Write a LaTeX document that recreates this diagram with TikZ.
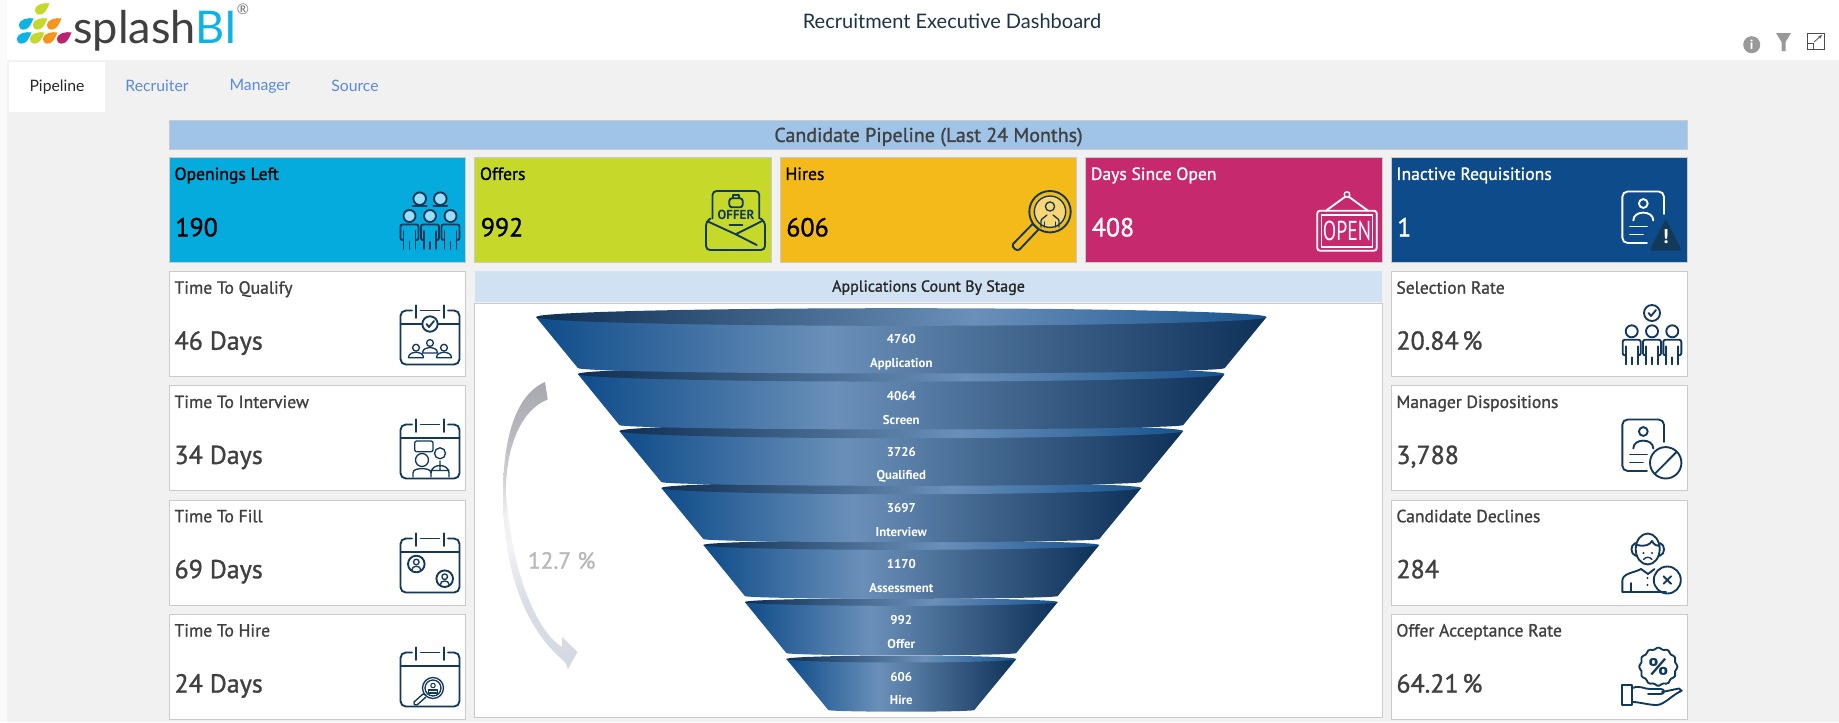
\documentclass[tikz,border=0pt]{standalone}
\usepackage{fontspec}
\setmainfont{PT Sans}
\newfontfamily\latofont{Lato}
\newfontfamily\medfont[FakeBold=1.1]{PT Sans}
\usepackage{xcolor}
\usepackage{tikz}
\usetikzlibrary{arrows.meta,shapes,positioning,calc}
\definecolor{pagegrey}{HTML}{F1F1F1}
\definecolor{edgegrey}{HTML}{CACACA}
\definecolor{bandblue}{HTML}{9FC4E8}
\definecolor{stagehead}{HTML}{CFE1F2}
\definecolor{tabblue}{HTML}{5A8ADB}
\definecolor{kpicyan}{HTML}{05ABDC}
\definecolor{kpilime}{HTML}{C6D92A}
\definecolor{kpigold}{HTML}{F3BA1A}
\definecolor{kpipink}{HTML}{C7296F}
\definecolor{kpinavy}{HTML}{0D4B8A}
\definecolor{iconnavy}{HTML}{12385A}
\definecolor{headtitle}{HTML}{1D3347}
\definecolor{inkgrey}{HTML}{404040}
\definecolor{logocyan}{HTML}{0DB3E2}
\definecolor{logolime}{HTML}{C5D82B}
\definecolor{logoorange}{HTML}{F7941E}
\definecolor{logopink}{HTML}{B9246E}
\definecolor{funnelleft}{HTML}{0F4C8A}
\definecolor{funnelmid}{HTML}{6A90B9}
\definecolor{funnelright}{HTML}{0E3158}
\definecolor{capleft}{HTML}{0F2F52}
\definecolor{capright}{HTML}{17538F}
\definecolor{fadea}{HTML}{D3D8E2}
\definecolor{fadeb}{HTML}{DADEE6}
\definecolor{fadec}{HTML}{F4F4F6}
\definecolor{faded}{HTML}{F0F0F0}
\definecolor{fadee}{HTML}{D2D2D6}
\definecolor{fadef}{HTML}{B8B8BE}
\definecolor{fadeg}{HTML}{A8A8B0}
\pgfdeclarehorizontalshading{funnelbody}{100bp}{color(0bp)=(funnelleft); color(25bp)=(funnelleft); color(45bp)=(funnelmid); color(75bp)=(funnelright); color(100bp)=(funnelright)}
\pgfdeclarehorizontalshading{funnelcap}{100bp}{color(0bp)=(capleft); color(25bp)=(capleft); color(55bp)=(funnelmid); color(75bp)=(capright); color(100bp)=(capright)}
\pgfdeclareverticalshading{arrowfade}{100bp}{color(0bp)=(fadea); color(25bp)=(fadea); color(37bp)=(fadeb); color(47bp)=(fadec); color(52bp)=(faded); color(58bp)=(fadee); color(66bp)=(fadef); color(75bp)=(fadeg); color(100bp)=(fadeg)}
% icon parts, one unit is one pixel of the picture
\tikzset{personhead/.style={}}
\newcommand{\stickperson}[2]{%
  \begin{scope}[shift={(#1,#2)}]
    \draw[personhead] (0,0) circle[radius=6];
    \draw[rounded corners=1.5pt] (-6,24) -- (-9,24) -- (-9,8.5) -- (9,8.5) -- (9,24) -- (6,24);
    \draw (-6,15) -- (-6,33) (6,15) -- (6,33) (0,26) -- (0,33);
  \end{scope}}
\newcommand{\miniperson}[2]{%
  \begin{scope}[shift={(#1,#2)}]
    \draw (0,0) circle[radius=3.4];
    \draw (-7.5,10) .. controls (-7.5,5.5) and (-3,5) .. (0,4.5) .. controls (3,5) and (7.5,5.5) .. (7.5,10) -- cycle;
  \end{scope}}
\newcommand{\calframe}{%
  \draw[rounded corners=4pt] (-18,-24.5) -- (-29.5,-24.5) -- (-29.5,29.5) -- (29.5,29.5) -- (29.5,-24.5) -- (18,-24.5);
  \draw (-9.3,-24.5) -- (9.3,-24.5) (-13.7,-29.7) -- (-13.7,-17) (13.7,-29.7) -- (13.7,-17);}
\newcommand{\cardframe}{%
  \draw[rounded corners=4pt] (12,-7) -- (12,-29.5) -- (-29.7,-29.5) -- (-29.7,22) -- (-5,22);
  \draw (-8.7,-17.5) circle[radius=4.4];
  \draw (-18.7,-0.5) .. controls (-18.7,-11) and (1.3,-11) .. (1.3,-0.5);
  \draw (-22,5.5) -- (-5,5.5) (-22,13.5) -- (-9,13.5);}
\newcommand{\logodrop}[3]{%
  \fill[#3, shift={(#1,#2)}] (7.5,-5.5) .. controls (3,-6.5) and (-7,-5.5) .. (-7,1.5) .. controls (-7,6.5) and (0,7) .. (3,3) .. controls (5,1) and (6,-2.5) .. (7.5,-5.5) -- cycle;}
\begin{document}
\begin{tikzpicture}[
    x=0.75pt, y=-0.75pt,
    node distance=6.2pt and 5.85pt,
    kpi/.style={rectangle, draw=edgegrey, line width=0.75pt, minimum width=222.5pt, minimum height=78.4pt, inner sep=0pt},
    metric/.style={kpi, fill=white, minimum height=78.75pt},
    tiletitle/.style={anchor=base west, inner sep=0pt, font=\medfont\fontsize{13.2}{16}\selectfont},
    tilevalue/.style={anchor=base west, inner sep=0pt, font=\medfont\fontsize{19.5}{23}\selectfont},
    tab/.style={inner sep=0pt, text=tabblue, font=\latofont\fontsize{11.8}{14}\selectfont},
    stagelabel/.style={inner sep=0pt, yshift=-1.3pt, text=white, text height=8pt, text depth=2pt, font=\bfseries\fontsize{9.6}{11}\selectfont},
    iconscope/.style={color=iconnavy, line width=1.4pt, line cap=round, line join=round}
]
    \useasboundingbox (0,0) rectangle (1839,722);
    \fill[pagegrey] (0,0) rectangle (1839,722);
    \fill[black!2] (0,0) rectangle (7,722);
    \fill[white] (7,0) rectangle (1839,60);

    % logo and header
    \logodrop{42}{9}{logolime}
    \logodrop{26}{24}{logocyan}
    \logodrop{40}{24}{logolime}
    \logodrop{54}{24}{logoorange}
    \logodrop{24}{38}{logocyan}
    \logodrop{37}{38}{logolime}
    \logodrop{50}{38}{logoorange}
    \logodrop{64}{38}{logopink}
    \node[anchor=base west, inner sep=0pt, text=inkgrey, font=\latofont\fontsize{33.8}{40}\selectfont] (logotext) at (73,43) {splash\textcolor{logocyan}{BI}};
    \node[inner sep=0pt, text=black!55, font=\latofont\fontsize{11}{12}\selectfont] (logomark) at (243,9) {®};
    \node[inner sep=0pt, text=headtitle, font=\latofont\fontsize{15}{18}\selectfont] (dashtitle) at (952,21) {Recruitment Executive Dashboard};
    \fill[black!40] (1751.7,44.7) circle[radius=8.5];
    \node[inner sep=0pt, text=white, font=\bfseries\fontsize{10}{10}\selectfont] (infomark) at (1751.7,44.7) {i};
    \fill[black!40] (1776,33) -- (1791,33) -- (1785.5,42) -- (1785.5,51) -- (1781.5,51) -- (1781.5,42) -- cycle;
    \draw[black!70, line width=0.75pt] (1807.3,33) rectangle (1824,49.5) (1807.3,43) -- (1813,43) -- (1813,49.5);
    \draw[black!70, line width=0.6pt, -{Stealth[length=3pt]}] (1814,42) -- (1822,35);

    % tabs
    \node[fill=white, minimum width=72pt, minimum height=37.5pt, inner sep=0pt, text=black!85, font=\latofont\fontsize{11.8}{14}\selectfont] (pipeline) at (57,87) {Pipeline};
    \node[tab] (recruiter) at (157,86) {Recruiter};
    \node[tab] (manager) at (260,86) {Manager};
    \node[tab] (source) at (355,86) {Source};

    % bands
    \node[rectangle, draw=edgegrey, line width=0.75pt, fill=bandblue, minimum width=1138.5pt, minimum height=21.75pt, inner sep=0pt, text height=15pt, text depth=3.8pt, text=inkgrey, font=\medfont\fontsize{15}{17}\selectfont] (pipelineband) at (928.5,134.5) {Candidate Pipeline (Last 24 Months)};

    % top row
    \node[kpi, fill=kpicyan] (openings) at (317.5,210) {};
    \node[kpi, fill=kpilime, right=of openings] (offers) {};
    \node[kpi, fill=kpigold, right=of offers] (hires) {};
    \node[kpi, fill=kpipink, right=of hires] (dayssince) {};
    \node[kpi, fill=kpinavy, right=of dayssince] (inactive) {};

    % left and right columns
    \node[metric, below=of openings] (tqualify) {};
    \node[metric, below=of tqualify] (tinterview) {};
    \node[metric, below=of tinterview] (tfill) {};
    \node[metric, below=of tfill] (thire) {};
    \node[metric, below=of inactive] (selection) {};
    \node[metric, below=of selection] (dispositions) {};
    \node[metric, below=of dispositions] (declines) {};
    \node[metric, below=of declines] (acceptance) {};

    \foreach \tile/\ink/\head/\val in {openings/black/Openings Left/190, offers/black/Offers/992, hires/black/Hires/606, dayssince/white/Days Since Open/408, inactive/white/Inactive Requisitions/1}{
        \node[tiletitle, text=\ink] (\tile-head) at ([shift={(4.2pt,-17pt)}]\tile.north west) {\head};
        \node[tilevalue, text=\ink] (\tile-val) at ([shift={(4.8pt,19.8pt)}]\tile.south west) {\val};
    }
    \foreach \tile/\head/\val in {tqualify/Time To Qualify/46 Days, tinterview/Time To Interview/34 Days, tfill/Time To Fill/69 Days, thire/Time To Hire/24 Days, selection/Selection Rate/20.84\hspace{0.14em}\%, dispositions/Manager Dispositions/{3,788}, declines/Candidate Declines/284, acceptance/Offer Acceptance Rate/64.21\hspace{0.14em}\%}{
        \node[tiletitle, text=inkgrey] (\tile-head) at ([shift={(4.2pt,-17pt)}]\tile.north west) {\head};
        \node[tilevalue, text=inkgrey] (\tile-val) at ([shift={(4.2pt,20.5pt)}]\tile.south west) {\val};
    }

    % funnel panel
    \node[fill=stagehead, minimum width=680.5pt, minimum height=22.8pt, inner sep=0pt, text height=10pt, text depth=2.2pt, text=black!85, font=\medfont\fontsize{12}{13}\selectfont] (stagetitle) at (928.5,286.5) {Applications Count By Stage};
    \node[rectangle, draw=edgegrey, line width=0.75pt, fill=white, minimum width=680.5pt, minimum height=311pt, inner sep=0pt, below=0.6pt of stagetitle] (funnelpanel) {};

    % funnel, drawn from the bottom so each stage covers the cap below it
    \foreach \stage/\ytop/\rtop/\rbot/\capry/\arcry/\countat/\nameat/\stagecount/\stagename in {
        7/659/115/73/3.5/1.7/675.5/699/606/Hire,
        6/602/156.5/115/3.8/2.4/619/643/992/Offer,
        5/545/198/156.5/4.8/2.8/563/587/1170/Assessment,
        4/488/240/198/6.2/3.2/506.7/530.7/3697/Interview,
        3/431/282/240/7.2/3.8/450.4/474/3726/Qualified,
        2/374/323.5/282/7.6/4.4/395/419/4064/Screen,
        1/317/365.3/323.5/8.8/5.5/337.7/361.7/4760/Application}{
        \pgfmathsetmacro{\ybot}{\ytop+51}
        \pgfmathsetmacro{\ylow}{\ybot+\arcry}
        \pgfmathsetmacro{\yctl}{\ybot+0.55*\arcry}
        \shade[shading=funnelbody] ({901.3-\rtop},\ytop) -- ({901.3-\rbot},\ybot)
            .. controls ({901.3-\rbot},\yctl) and ({901.3-0.55*\rbot},\ylow) .. (901.3,\ylow)
            .. controls ({901.3+0.55*\rbot},\ylow) and ({901.3+\rbot},\yctl) .. ({901.3+\rbot},\ybot)
            -- ({901.3+\rtop},\ytop) -- cycle;
        \shade[shading=funnelcap] (901.3,\ytop) ellipse[x radius=\rtop, y radius=\capry];
        \node[stagelabel] (count\stage) at (901.3,\countat) {\stagecount};
        \node[stagelabel] (stage\stage) at (901.3,\nameat) {\stagename};
    }

    % conversion arrow
    \shade[shading=arrowfade] (545,382) .. controls (515,395) and (503,440) .. (503,495)
        .. controls (503,560) and (520,625) .. (565,662) -- (568,669) -- (577.5,652) -- (562,637) -- (562,647)
        .. controls (535,630) and (512,570) .. (506,495) .. controls (505,450) and (520,410) .. (547.7,399.5) -- cycle;
    \node[inner sep=0pt, text=black!28, font=\medfont\fontsize{17.5}{22}\selectfont] (conversion) at (561.7,560.5) {12.7 \%};

    % icons
    \begin{scope}[iconscope, shift={(430,221)}, personhead/.style={fill=cyan!40!white}]
        \draw[personhead] (-10.3,-22.3) circle[radius=6.3] (10.3,-22.3) circle[radius=6.3];
        \draw (-17.3,-14.7) -- (-3.3,-14.7) (3.3,-14.7) -- (17.3,-14.7);
        \stickperson{-20.5}{-5}
        \stickperson{0}{-5}
        \stickperson{20.5}{-5}
    \end{scope}
    \begin{scope}[iconscope, shift={(735.5,220.5)}]
        \draw[rounded corners=3pt] (-23,-2) -- (-23,-29.5) -- (23.8,-29.5) -- (23.8,-2);
        \draw[rounded corners=2pt] (-6.2,-22.2) rectangle (7.2,-13.2);
        \draw (-2.8,-22.2) -- (-2.8,-25.5) -- (3.8,-25.5) -- (3.8,-22.2);
        \draw[rounded corners=3pt] (-25,-2) -- (-29.5,1) -- (-29.5,29.5) -- (29.5,29.5) -- (29.5,1) -- (25,-2);
        \draw (-27.2,1.2) -- (0.2,13.8) -- (27.2,0.2) (0.2,13.8) -- (21.2,24.5);
        \draw (-6,4.5) -- (7,4.5);
        \node[inner sep=0pt, font=\bfseries\fontsize{9.8}{10}\selectfont] (offerword) at (0.5,-5.5) {OFFER};
    \end{scope}
    \begin{scope}[iconscope, shift={(1041,221)}]
        \draw[fill=kpigold!60!white, line width=1pt] (9,-9.3) circle[radius=15.7];
        \draw (9,-9.3) circle[radius=20.7];
        \draw[line width=1pt] (9,-14.5) circle[radius=4.6];
        \draw[line width=1pt] (0,6) -- (0,0) .. controls (0,-3) and (4,-3) .. (6,-6) (18,6) -- (18,0) .. controls (18,-3) and (14,-3) .. (12,-6);
        \draw[line width=1pt] (3.5,1) -- (3.5,6) (14.5,1) -- (14.5,6);
        \draw (-5.5,5.5) -- (-8.5,3) -- (-28,23) .. controls (-30,26) and (-24,31) .. (-21.5,28.5) -- (-2.5,8.5) -- cycle;
    \end{scope}
    \begin{scope}[iconscope, shift={(1347,221)}, color=white]
        \draw[line width=1pt] (0,-26.5) circle[radius=2.8];
        \draw (-1.5,-24.5) -- (-21,-10.3) (1.5,-24.5) -- (21,-10.3);
        \draw[rounded corners=2pt] (-29.7,-10.3) rectangle (29.7,29.7);
        \draw (-25.5,-6) rectangle (25.5,25.7);
        \node[inner sep=0pt, xscale=0.72, font=\fontsize{20.5}{20}\selectfont] (openword) at (0,10) {OPEN};
    \end{scope}
    \begin{scope}[iconscope, shift={(1652,221)}, color=white]
        \cardframe
        \fill[iconnavy, rounded corners=2pt] (13.7,-2) -- (29.8,29.7) -- (-2.6,29.7) -- cycle;
        \node[inner sep=0pt, text=white, font=\bfseries\fontsize{15}{15}\selectfont] (warnmark) at (13.7,16) {!};
    \end{scope}
    \begin{scope}[iconscope, shift={(430,335)}]
        \calframe
        \draw (-29.5,-11.3) -- (-8.5,-11.3) (8.5,-11.3) -- (29.5,-11.3);
        \draw (0,-11) circle[radius=7.7] (-3.5,-11) -- (-1,-8) -- (4,-14);
        \begin{scope}[line width=1pt]
            \miniperson{-14}{12.7}
            \miniperson{14}{12.7}
            \miniperson{0}{8}
        \end{scope}
    \end{scope}
    \begin{scope}[iconscope, shift={(430,449)}]
        \calframe
        \draw (-29.5,-11.3) -- (29.5,-11.3);
        \begin{scope}[line width=1pt]
            \draw[rounded corners=1.5pt] (-15.3,-8) rectangle (3,2.7);
            \draw (-8,11) circle[radius=6.5];
            \draw (-17,28) -- (-17,24) .. controls (-17,20) and (-12,20) .. (-8,19.5) .. controls (-4,20) and (1,20) .. (1,24) -- (1,28);
            \draw (10,4.3) circle[radius=5.5];
            \draw (1,24) .. controls (1,14) and (19,14) .. (19,24) -- (19,28) (1,21.5) -- (19,21.5) (10,12) -- (10,21);
        \end{scope}
    \end{scope}
    \begin{scope}[iconscope, shift={(430,563)}]
        \calframe
        \draw (-29.5,-11.3) -- (29.5,-11.3);
        \foreach \cx/\cy in {-13.7/1, 14.7/15.7}{
            \draw (\cx,\cy) circle[radius=8.3];
            \draw[line width=1pt] (\cx,{\cy-2}) circle[radius=2.8];
            \draw[line width=1pt] ({\cx-4.5},{\cy+6}) .. controls ({\cx-4.5},{\cy+1}) and ({\cx+4.5},{\cy+1}) .. ({\cx+4.5},{\cy+6});
        }
    \end{scope}
    \begin{scope}[iconscope, shift={(430,677)}]
        \calframe
        \draw (-29.5,-11.3) -- (29.5,-11.3);
        \draw[line width=1pt] (3,11) circle[radius=10.5] (3,11) circle[radius=8];
        \draw[line width=0.8pt] (3,8.5) circle[radius=2.2];
        \draw[line width=0.8pt] (-1.5,16) -- (-1.5,13) -- (7.5,13) -- (7.5,16) -- cycle;
        \draw[line width=1pt] (-4,18) -- (-7,17) -- (-16,25) .. controls (-17,27) and (-15,29) .. (-13,28) -- (-4,20);
    \end{scope}
    \begin{scope}[iconscope, shift={(1652,335)}]
        \draw (0,-22) circle[radius=8] (-3.5,-22) -- (-1,-19) -- (4,-25);
        \stickperson{-20.3}{-3.7}
        \stickperson{0}{-3.7}
        \stickperson{20.3}{-3.7}
    \end{scope}
    \begin{scope}[iconscope, shift={(1652,449)}]
        \cardframe
        \draw (13.7,13.8) circle[radius=15.7] (2.8,24.8) -- (24.7,2.8);
    \end{scope}
    \begin{scope}[iconscope, shift={(1652,563)}]
        \draw (-4.3,-14) ellipse[x radius=12, y radius=15.5];
        \draw (-16.5,-20) .. controls (-22,-18) and (-22,-9) .. (-16,-7) (8,-20) .. controls (13.5,-18) and (13.5,-9) .. (7.5,-7);
        \draw (-15,-18) .. controls (-8,-16) and (-2,-18) .. (0,-22) .. controls (2,-18) and (5,-17) .. (7.5,-17);
        \draw[line width=1pt] (-8.5,-3.5) .. controls (-6,-6.5) and (-2.5,-6.5) .. (0,-3.5);
        \fill (-8.5,-10) circle[radius=1.1] (0,-10) circle[radius=1.1];
        \draw (-29.7,28.7) -- (-29.7,18) .. controls (-29.7,10) and (-18,10) .. (-11,6) -- (-4,11) -- (2.5,6);
        \draw (-29.7,28.7) -- (14,28.7) (-21,20) -- (-21,28.7);
        \fill (-4.5,15) circle[radius=1.1] (-4.5,22) circle[radius=1.1];
        \draw (15.3,17) circle[radius=13.5] (11.5,13.2) -- (19.1,20.8) (19.1,13.2) -- (11.5,20.8);
    \end{scope}
    \begin{scope}[iconscope, shift={(1652,677)}]
        \draw plot[domain=0:352.8, samples=50, smooth cycle] ({6.3+(18.3+0.9*cos(12*\x))*cos(\x)},{-10.3+(18.3+0.9*cos(12*\x))*sin(\x)});
        \node[inner sep=0pt, font=\bfseries\fontsize{18}{18}\selectfont] (percentmark) at (6.3,-10.3) {\%};
        \draw (-29.7,8) rectangle (-19.7,28);
        \draw (-19.7,11) .. controls (-12,8) and (-8,12) .. (-2,12) -- (9,12) .. controls (13,12) and (13,17) .. (9,17) -- (-4,17);
        \draw (10,15) -- (27,11.5) -- (29.7,13.7) .. controls (20,18) and (12,28) .. (4.7,28) .. controls (-4,28) and (-12,25) .. (-19.7,25);
    \end{scope}
\end{tikzpicture}
\end{document}
